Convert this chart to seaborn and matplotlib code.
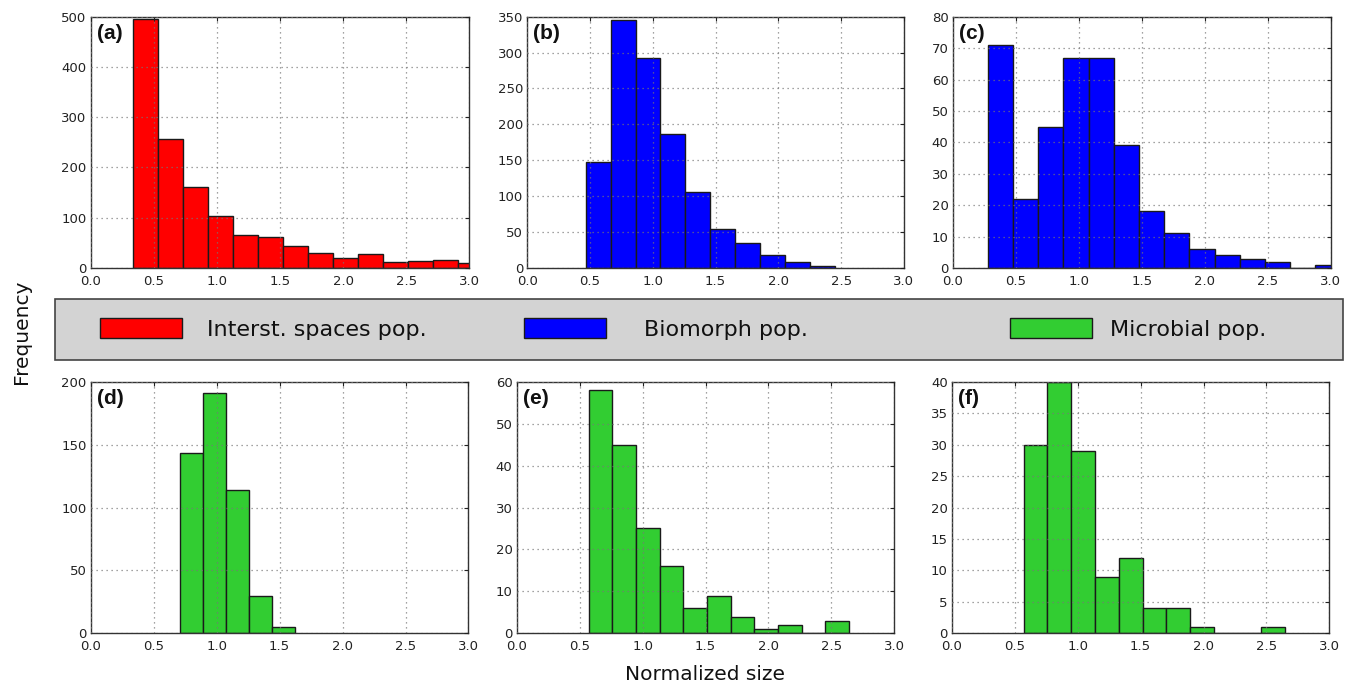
import numpy as np
import pandas as pd
import matplotlib
matplotlib.use("Agg")
import matplotlib.pyplot as plt
from matplotlib.patches import Patch, Rectangle
import seaborn as sns

# bin layout: left edge of first bin, bin width
bin_start = {"a": 0.333, "b": 0.467, "c": 0.278, "d": 0.707, "e": 0.572, "f": 0.570}
bin_width = {"a": 0.198, "b": 0.198, "c": 0.200, "d": 0.183, "e": 0.188, "f": 0.189}

# counts per bin
counts_a = [495, 256, 161, 103, 66, 62, 44, 29, 20, 28, 12, 13, 15, 9]
counts_b = [147, 346, 293, 187, 106, 55, 35, 18, 8, 3]
counts_c = [71, 22, 45, 67, 67, 39, 18, 11, 6, 4, 3, 2, 0, 1]
counts_d = [143, 191, 114, 30, 5]
counts_e = [58, 45, 25, 16, 6, 9, 4, 1, 2, 0, 3]
counts_f = [30, 40, 29, 9, 12, 4, 4, 1, 0, 0, 1]

y_max = {"a": 500, "b": 350, "c": 80, "d": 200, "e": 60, "f": 40}
y_step = {"a": 100, "b": 50, "c": 10, "d": 50, "e": 10, "f": 5}
x_ticks = [0.0, 0.5, 1.0, 1.5, 2.0, 2.5, 3.0]

pop_labels = ["Interst. spaces pop.", "Biomorph pop.", "Microbial pop."]
pop_colors = ["#ff0000", "#0000ff", "#32cd32"]

panels = [
    ("a", counts_a, 0),
    ("b", counts_b, 1),
    ("c", counts_c, 1),
    ("d", counts_d, 2),
    ("e", counts_e, 2),
    ("f", counts_f, 2),
]

# axes positions in figure fractions
positions = {
    "a": [0.0671, 0.6099, 0.2800, 0.3658],
    "b": [0.3900, 0.6099, 0.2786, 0.3658],
    "c": [0.7047, 0.6099, 0.2796, 0.3658],
    "d": [0.0671, 0.0781, 0.2794, 0.3663],
    "e": [0.3822, 0.0781, 0.2793, 0.3663],
    "f": [0.7041, 0.0781, 0.2791, 0.3663],
}

sns.set_theme(style="white")
plt.rcParams["font.family"] = ["DejaVu Sans"]

fig = plt.figure(figsize=(13.52, 6.87), dpi=100)

for key, counts, color_idx in panels:
    ax = fig.add_axes(positions[key])
    n = len(counts)
    edges = [bin_start[key] + bin_width[key] * k for k in range(n + 1)]
    centers = [(edges[k] + edges[k + 1]) / 2 for k in range(n)]
    df = pd.DataFrame({"size": centers, "count": counts})
    sns.histplot(data=df, x="size", weights="count", bins=edges, ax=ax,
                 color=pop_colors[color_idx], alpha=1.0, edgecolor="#1a1a1a",
                 linewidth=1.0)
    ax.set_xlim(0, 3.0)
    ax.set_ylim(0, y_max[key])
    ax.set_xticks(x_ticks)
    ax.set_xticklabels([f"{t:.1f}" for t in x_ticks])
    ax.set_yticks(np.arange(0, y_max[key] + 1, y_step[key]))
    ax.set_xlabel("")
    ax.set_ylabel("")
    ax.set_axisbelow(False)
    ax.grid(True, color="#777777", linestyle=(0, (1, 3)), linewidth=0.9, alpha=0.9)
    ax.tick_params(direction="in", length=3, width=0.8, top=True, right=True,
                   labelsize=9.5, colors="#222222")
    ax.tick_params(axis="x", pad=5)
    ax.tick_params(axis="y", pad=3)
    for sp in ax.spines.values():
        sp.set_color("#333333")
        sp.set_linewidth(1.0)
    ax.text(0.016, 0.97, f"({key})", transform=ax.transAxes, ha="left", va="top",
            fontsize=15, fontweight="bold", color="#111111",
            family=["Liberation Sans", "DejaVu Sans"])

# grey legend band between the rows
band = Rectangle((0.0407, 0.476), 0.9526, 0.0888, transform=fig.transFigure,
                 facecolor="#d3d3d3", edgecolor="#444444", linewidth=1.2, zorder=0)
fig.patches.append(band)

legend_x = [0.0740, 0.3876, 0.7470]
legend_pad = [1.1, 1.7, 0.8]
for lab, col, lx, pad in zip(pop_labels, pop_colors, legend_x, legend_pad):
    fig.legend(handles=[Patch(facecolor=col, edgecolor="#1a1a1a", linewidth=1.0)],
               labels=[lab], loc="center left", bbox_to_anchor=(lx, 0.521),
               frameon=False, fontsize=16, handlelength=3.7, handleheight=0.95,
               handletextpad=pad, borderpad=0, borderaxespad=0,
               labelcolor="#111111")

fig.text(0.016, 0.517, "Frequency", rotation=90, ha="center", va="center",
         fontsize=14.5, color="#111111")
fig.text(0.5215, 0.018, "Normalized size", ha="center", va="center",
         fontsize=14.5, color="#111111")

fig.savefig("out.png", dpi=100)
